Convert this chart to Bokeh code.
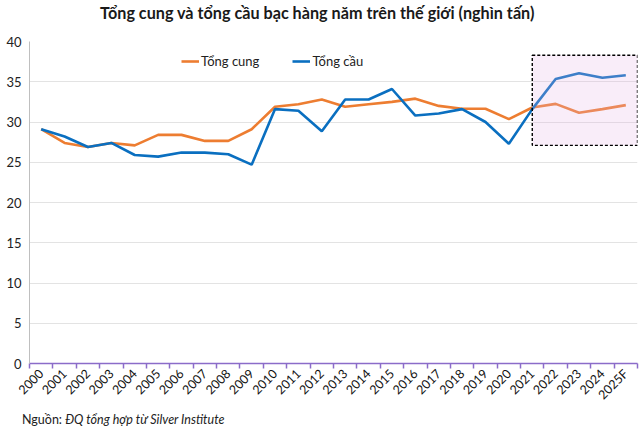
from math import pi
from bokeh.plotting import figure
from bokeh.layouts import column
from bokeh.models import (FixedTicker, Range1d, BoxAnnotation, Legend, LegendItem,
                          ColumnDataSource, Div)
from bokeh.embed import file_html
from bokeh.resources import INLINE

years = ["2000", "2001", "2002", "2003", "2004", "2005", "2006", "2007", "2008", "2009",
         "2010", "2011", "2012", "2013", "2014", "2015", "2016", "2017", "2018", "2019",
         "2020", "2021", "2022", "2023", "2024", "2025F"]
supply = [29.1, 27.4, 26.9, 27.4, 27.1, 28.4, 28.4, 27.65, 27.65, 29.1,
          31.9, 32.2, 32.8, 31.9, 32.2, 32.5, 32.9, 32.0, 31.65, 31.65,
          30.35, 31.8, 32.25, 31.15, 31.6, 32.1]
demand = [29.1, 28.2, 26.9, 27.4, 25.9, 25.7, 26.2, 26.2, 26.0, 24.7,
          31.6, 31.4, 28.85, 32.8, 32.8, 34.1, 30.8, 31.05, 31.6, 30.0,
          27.3, 31.6, 35.35, 36.05, 35.5, 35.8]
y_ticks = [0, 5, 10, 15, 20, 25, 30, 35, 40]
forecast_start = "2021"
forecast_band = (27.1, 38.3)
title_text = "Tổng cung và tổng cầu bạc hàng năm trên thế giới (nghìn tấn)"
series_names = ["Tổng cung", "Tổng cầu"]
source_prefix = "Nguồn: "
source_text = "ĐQ tổng hợp từ Silver Institute"

FONT = "Lato"
ORANGE = "#ED7D31"
BLUE = "#0A6FC0"
PURPLE = "#8B6CC9"

idx = list(range(len(years)))
src = ColumnDataSource(dict(x=idx, year=years, supply=supply, demand=demand))

title = Div(text=title_text, width=640, height=28, margin=(0, 0, 0, 0),
            styles={"font-family": FONT, "font-size": "16.2px", "font-weight": "bold",
                    "color": "#1a1a1a", "padding-left": "100px", "padding-top": "3px",
                    "line-height": "20px", "white-space": "nowrap"})

p = figure(width=640, height=382, output_backend="svg", toolbar_location=None,
           x_range=Range1d(-0.5, len(years) - 0.5), y_range=Range1d(y_ticks[0], y_ticks[-1]),
           min_border_left=29, min_border_right=3, min_border_top=13, min_border_bottom=47)
p.outline_line_color = None
p.background_fill_color = "white"

# axes
xa = p.xaxis[0]
xa.ticker = FixedTicker(ticks=idx, minor_ticks=[i - 0.5 for i in range(len(years) + 1)])
xa.major_label_overrides = {i: y for i, y in enumerate(years)}
xa.major_label_orientation = pi / 4
xa.major_label_text_font = FONT
xa.major_label_text_font_size = "12.5px"
xa.major_label_text_color = "#111111"
xa.major_tick_out = 0
xa.major_tick_in = 0
xa.minor_tick_out = 5
xa.minor_tick_in = 0
xa.minor_tick_line_color = PURPLE
xa.minor_tick_line_width = 1.5
xa.axis_line_color = PURPLE
xa.axis_line_width = 1.5
xa.major_label_standoff = 3

ya = p.yaxis[0]
ya.ticker = FixedTicker(ticks=y_ticks)
ya.major_label_text_font = FONT
ya.major_label_text_font_size = "13px"
ya.major_label_text_color = "#222222"
ya.major_tick_out = 0
ya.major_tick_in = 0
ya.minor_tick_out = 0
ya.minor_tick_in = 0
ya.axis_line_color = "#BFBFBF"
ya.major_label_standoff = 8

p.xgrid.grid_line_color = None
p.ygrid.grid_line_color = "#E3E3E3"
p.ygrid.grid_line_width = 1

r1 = p.line("x", "supply", source=src, line_color=ORANGE, line_width=2.6)
r2 = p.line("x", "demand", source=src, line_color=BLUE, line_width=2.6)

box = BoxAnnotation(left=years.index(forecast_start), right=len(years) - 0.5,
                    bottom=forecast_band[0], top=forecast_band[1],
                    fill_color="#E6B3E6", fill_alpha=0.24,
                    line_color="black", line_alpha=1, line_width=1.4, line_dash="3 2")
p.add_layout(box)

legend = Legend(items=[LegendItem(label=series_names[0], renderers=[r1]),
                       LegendItem(label=series_names[1], renderers=[r2])],
                orientation="horizontal", location=(152, 292),
                border_line_color=None, background_fill_alpha=0,
                padding=0, margin=0, spacing=33, glyph_width=18, label_standoff=2,
                label_text_font=FONT, label_text_font_size="13px", label_text_color="#222222")
p.add_layout(legend)

note = Div(text=f"{source_prefix}<i>{source_text}</i>", width=640, height=20,
           margin=(0, 0, 0, 0),
           styles={"font-family": FONT, "font-size": "12.5px", "color": "#222222",
                   "padding-left": "22px", "padding-top": "3px", "line-height": "14px"})

layout = column(title, p, note, spacing=0)
open("out.html", "w").write(file_html(layout, INLINE))
